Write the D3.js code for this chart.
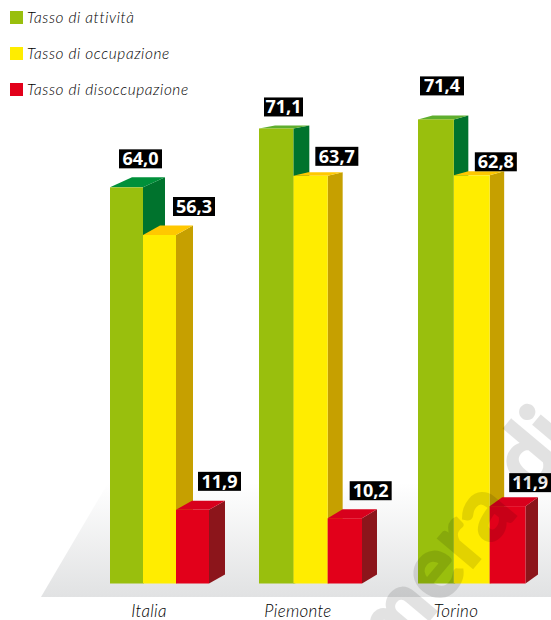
<!DOCTYPE html>
<html><head><meta charset="utf-8">
<script src="https://cdn.jsdelivr.net/npm/d3@7"></script>
<style>html,body{margin:0;padding:0;background:#fff}svg{display:block}</style>
</head><body><svg id="c" width="551" height="620"></svg>
<script>
const categories = ["Italia","Piemonte","Torino"];
const seriesNames = ["Tasso di attività","Tasso di occupazione","Tasso di disoccupazione"];
const attivita = [64.0,71.1,71.4];
const occupazione = [56.3,63.7,62.8];
const disoccupazione = [11.9,10.2,11.9];
const seriesValues = [attivita,occupazione,disoccupazione];

// layout / style, separate from the data
const frontColors = ["#99bf0d","#ffed00","#e2001a"];
const sideColors = ["#00732d","#c6a000","#8c151b"];
const topColors = [["#00903a","#5fae2e","#5fae2e"],["#ffc800","#ffc800","#ffc800"],["#d8001c","#d8001c","#d8001c"]];
const groupSpans = [[110,209],[259,362],[418,525.5]];
const pxPerUnit = [6.19,6.4,6.5];
const depth = [[[22,10],[17,9.5],[16,9]],[[16,3],[15,3.5],[15,9]],[[14.5,4],[14.5,4],[12.5,9]]];
const labelOffsets = [[[9,-38],[30,-38],[22,-38]],[[5,-31],[22,-29],[22,-37]],[[2,-43],[21,-23],[19.5,-33]]];
const labelWidths = [[43,42,43],[39,43,42],[44,42,42]];
const categoryCentres = [149,298,456];
const baseline = 583.5;
const fmt = v => d3.format(".1f")(v).replace(".",",");

const svg = d3.select("#c");
const defs = svg.append("defs");
const grad = defs.append("linearGradient").attr("id","floor").attr("x1",0).attr("x2",0).attr("y1",0).attr("y2",1);
grad.append("stop").attr("offset",0).attr("stop-color","#ffffff");
grad.append("stop").attr("offset",1).attr("stop-color","#e1e2e3");

svg.append("path").attr("d",d3.line()([[41,597],[108,483],[551,483],[551,597]])).attr("fill","url(#floor)");

// legend
const legendY = d3.scalePoint().domain(seriesNames).range([17.5,89.5]);
seriesNames.forEach((n,i)=>{
  const y = legendY(n);
  svg.append("rect").attr("x",10).attr("y",y-6.5).attr("width",13).attr("height",13).attr("fill",frontColors[i]);
  svg.append("text").attr("x",27).attr("y",y+5.5).attr("font-family","Lato").attr("font-weight",300).attr("font-style","italic")
    .attr("font-size",15.4).attr("letter-spacing",0.58).attr("fill","#000").text(n);
});

// bars
categories.forEach((cat,g)=>{
  const x = d3.scaleBand().domain(seriesNames).range(groupSpans[g]);
  const k = d3.scaleLinear().domain([0,1]).range([0,pxPerUnit[g]]);
  const y = v => baseline - k(v);
  seriesNames.forEach((name,s)=>{
    const v = seriesValues[s][g];
    const x0 = x(name), x1 = x0 + x.bandwidth(), t = y(v);
    const [dx,dy] = depth[g][s];
    const gp = svg.append("g");
    gp.append("path").attr("d",d3.line()([[x1,t],[x1+dx,t-dy],[x1+dx,baseline-dy],[x1,baseline]])).attr("fill",sideColors[s]);
    gp.append("path").attr("d",d3.line()([[x0,t],[x0+dx,t-dy],[x1+dx,t-dy],[x1,t]])).attr("fill",topColors[s][g]);
    gp.append("rect").attr("x",x0).attr("y",t).attr("width",x.bandwidth()).attr("height",baseline-t).attr("fill",frontColors[s]);
  });
  seriesNames.forEach((name,s)=>{
    const v = seriesValues[s][g];
    const [ox,oy] = labelOffsets[g][s];
    const w = labelWidths[g][s];
    const lx = x(name)+ox, ly = y(v)+oy;
    const gp = svg.append("g");
    gp.append("rect").attr("x",lx).attr("y",ly).attr("width",w).attr("height",19).attr("fill","#000");
    gp.append("text").attr("x",lx+w/2).attr("y",ly+16).attr("text-anchor","middle")
      .attr("font-family","Open Sans").attr("font-weight",700).attr("font-size",18).attr("fill","#fff").text(fmt(v));
  });
  svg.append("text").attr("x",categoryCentres[g]).attr("y",617)
    .attr("text-anchor","middle").attr("font-family","Lato").attr("font-weight",300).attr("font-style","italic")
    .attr("font-size",17).attr("letter-spacing",0.3).attr("fill","#000").text(cat);
});

// watermark
svg.append("text").attr("transform","translate(392,664) rotate(-50)")
  .attr("font-family","Lato").attr("font-weight",700).attr("font-size",88)
  .attr("fill","#000").attr("stroke","#000").attr("stroke-width",2.5).attr("opacity",0.11).text("mera di");
</script></body></html>
